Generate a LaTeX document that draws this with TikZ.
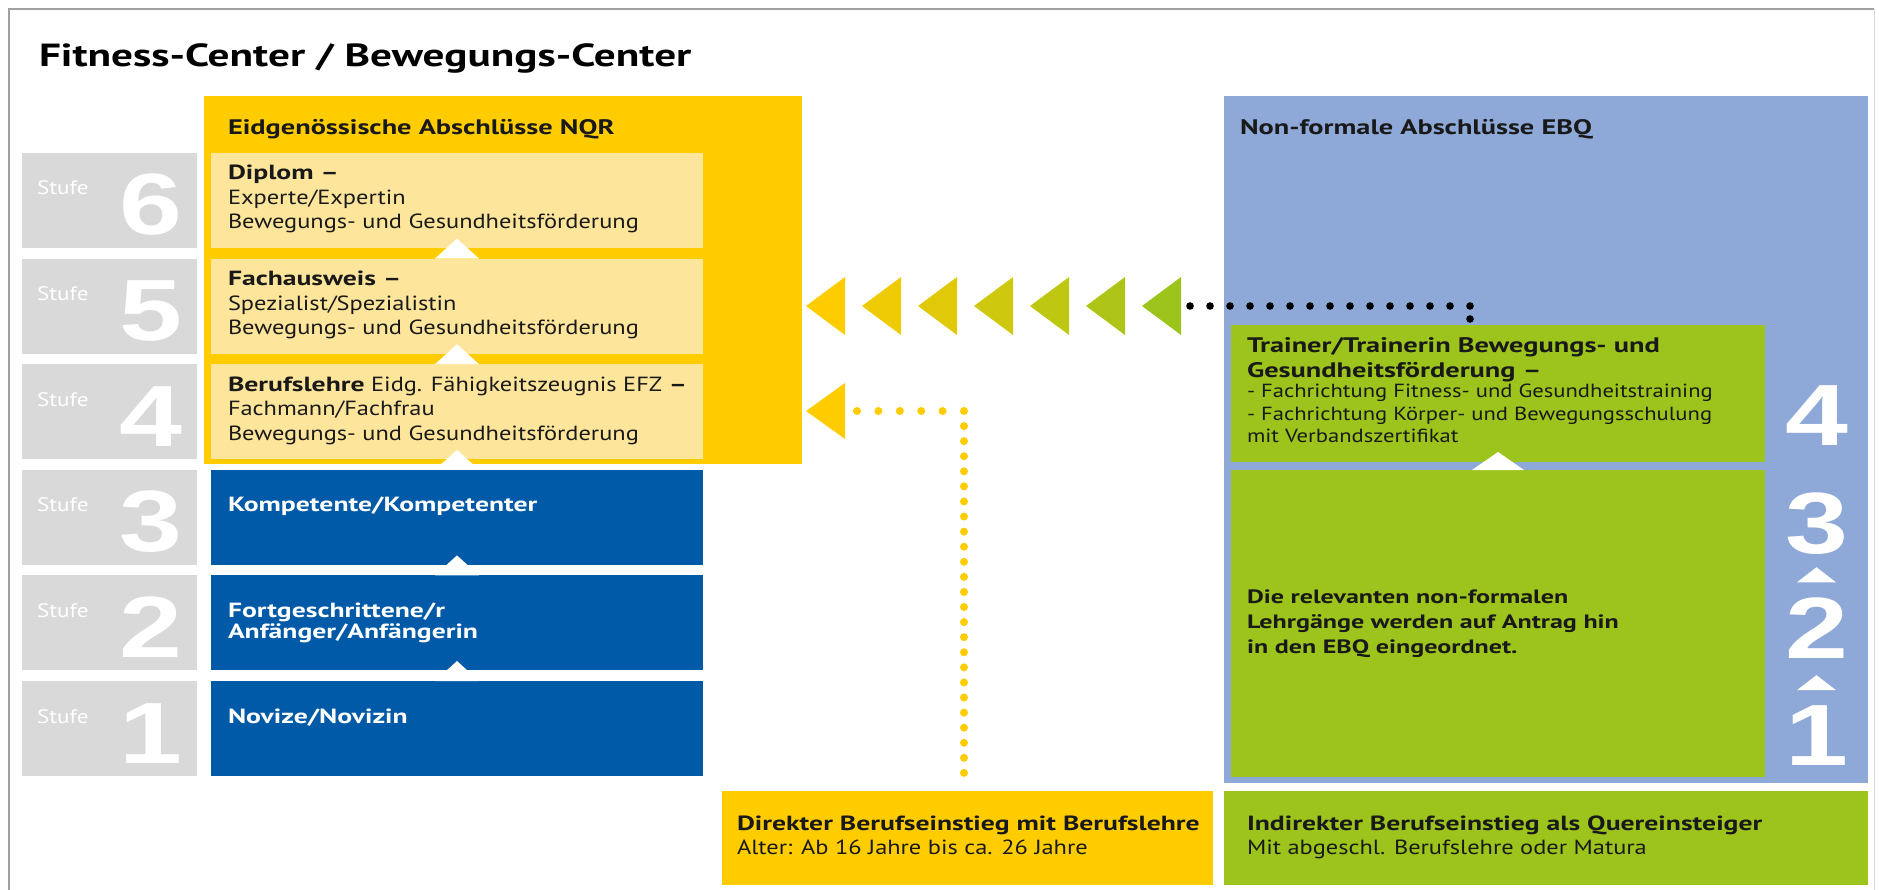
\documentclass[tikz,border=0pt]{standalone}
\usepackage{fontspec}
\setmainfont{PT Sans}[FakeStretch=1.19]
\newfontfamily\bff{PT Sans}[FakeStretch=1.35]
\newcommand{\B}[1]{{\bff\bfseries #1}}
\newfontfamily\numfont{Liberation Sans}[FakeStretch=1.3]
\usetikzlibrary{calc}
\definecolor{nqr}{RGB}{255,204,0}
\definecolor{card}{RGB}{253,229,155}
\definecolor{blu}{RGB}{0,90,168}
\definecolor{stg}{RGB}{217,217,217}
\definecolor{ebq}{RGB}{142,168,216}
\definecolor{grn}{RGB}{157,196,28}
\definecolor{ink}{RGB}{25,25,25}
\definecolor{framec}{RGB}{160,160,160}
\begin{document}
\begin{tikzpicture}[x=1pt,y=-1pt,
  every node/.style={inner sep=0pt, outer sep=0pt},
  blk/.style n args={3}{anchor=north west, fill=#1, minimum width=#2, minimum height=#3},
  txt/.style={anchor=base west, text=ink, font=\fontsize{20.5}{24.5}\selectfont},
  wtxt/.style={anchor=base west, text=white, font=\bff\bfseries\fontsize{20.5}{21}\selectfont},
  hdr/.style={anchor=base west, text=ink, font=\bff\bfseries\fontsize{21}{24.5}\selectfont},
  stlbl/.style={anchor=base west, text=white, font=\fontsize{19.5}{20}\selectfont},
  bignum/.style={anchor=base west, text=white, font=\numfont\bfseries\fontsize{87}{87}\selectfont},
  uptri/.style={fill=white}
]
\useasboundingbox (0,0) rectangle (1879,890);
% frame
\draw[framec, line width=2pt] (9,890) -- (9,9) -- (1874,9);
\draw[framec!40, line width=1pt] (1874,9) -- (1874,890);
% title
\node[anchor=base west, text=black, font=\bff\bfseries\fontsize{32}{38}\selectfont] (title) at (39,67) {Fitness-Center / Bewegungs-Center};

% Stufe column
\foreach \n/\t in {6/153,5/258.6,4/364.2,3/469.8,2/575.4,1/681}{
  \node[blk={stg}{175pt}{95pt}] (s\n) at (22,\t) {};
  \node[stlbl] (sl\n) at ([shift={(15,42)}]s\n.north west) {Stufe};
  \node[bignum] (sn\n) at ([shift={(97,82)}]s\n.north west) {\n};
}

% NQR block
\node[blk={nqr}{598pt}{368pt}] (nqr) at (204,96) {};
\node[hdr] (nqrh) at (228,135) {Eidgenössische Abschlüsse NQR};
\node[blk={card}{492pt}{95pt}] (c6) at (211,153) {};
\node[blk={card}{492pt}{95pt}] (c5) at (211,258.6) {};
\node[blk={card}{492pt}{95pt}] (c4) at (211,364.2) {};
\node[blk={blu}{492pt}{95pt}] (c3) at (211,469.8) {};
\node[blk={blu}{492pt}{95pt}] (c2) at (211,575.4) {};
\node[blk={blu}{492pt}{95pt}] (c1) at (211,681) {};

\node[txt] (t6) at ([shift={(17,27)}]c6.north west) {\parbox[t]{480pt}{\B{Diplom –}\\Experte/Expertin\\Bewegungs- und Gesundheitsförderung}};
\node[txt] (t5) at ([shift={(17,27)}]c5.north west) {\parbox[t]{480pt}{\B{Fachausweis –}\\Spezialist/Spezialistin\\Bewegungs- und Gesundheitsförderung}};
\node[txt] (t4) at ([shift={(17,27)}]c4.north west) {\parbox[t]{480pt}{\B{Berufslehre} Eidg. Fähigkeitszeugnis EFZ \B{–}\\Fachmann/Fachfrau\\Bewegungs- und Gesundheitsförderung}};
\node[wtxt] (t3) at ([shift={(17,42)}]c3.north west) {Kompetente/Kompetenter};
\node[wtxt] (t2) at ([shift={(17,42)}]c2.north west) {\parbox[t]{480pt}{Fortgeschrittene/r\\Anfänger/Anfängerin}};
\node[wtxt] (t1) at ([shift={(17,42)}]c1.north west) {Novize/Novizin};

% white step triangles (left)
\foreach \c in {c5,c4,c3,c2,c1}{
  \fill[uptri] ($(\c.north)+(-22,0)$) -- ($(\c.north)+(22,0)$) -- ($(\c.north)+(0,-20)$) -- cycle;
}

% EBQ block
\node[blk={ebq}{644pt}{687pt}] (ebq) at (1224,96) {};
\node[hdr] (ebqh) at (1240,135) {Non-formale Abschlüsse EBQ};
\node[blk={grn}{534pt}{137pt}] (tr) at (1231,325) {};
\node[blk={grn}{534pt}{307pt}] (lg) at (1231,470) {};
\node[hdr] (trh) at ([shift={(16,28)}]tr.north west) {\parbox[t]{520pt}{Trainer/Trainerin Bewegungs- und\\Gesundheitsförderung –}};
\node[anchor=base west, text=ink, font=\fontsize{19}{22}\selectfont] (trt) at ([shift={(16,73)}]tr.north west) {\parbox[t]{520pt}{- Fachrichtung Fitness- und Gesundheitstraining\\- Fachrichtung Körper- und Bewegungsschulung\\mit Verbandszertifikat}};
\node[hdr, font=\bff\bfseries\fontsize{19.3}{25}\selectfont] (lgt) at ([shift={(16,133)}]lg.north west) {\parbox[t]{520pt}{Die relevanten non-formalen\\Lehrgänge werden auf Antrag hin\\in den EBQ eingeordnet.}};
\fill[uptri] ($(lg.north)+(-26,0)$) -- ($(lg.north)+(26,0)$) -- ($(lg.north)+(0,-18)$) -- cycle;

% EBQ level numbers
\node[bignum] (e4) at (1785,445) {4};
\node[bignum] (e3) at (1785,553) {3};
\node[bignum] (e2) at (1785,658) {2};
\node[bignum] (e1) at (1785,765) {1};
\fill[uptri] ($(e2.north)+(-19.5,-15)$) -- ($(e2.north)+(19.5,-15)$) -- ($(e2.north)+(0,-30)$) -- cycle;
\fill[uptri] ($(e1.north)+(-19.5,-15)$) -- ($(e1.north)+(19.5,-15)$) -- ($(e1.north)+(0,-30)$) -- cycle;

% bottom entry boxes
\node[blk={nqr}{491pt}{94pt}] (dir) at (722,791) {};
\node[blk={grn}{644pt}{94pt}] (ind) at (1224,791) {};
\node[txt] (dirt) at ([shift={(15,39)}]dir.north west) {\parbox[t]{480pt}{\B{Direkter Berufseinstieg mit Berufslehre}\\Alter: Ab 16 Jahre bis ca. 26 Jahre}};
\node[txt] (indt) at ([shift={(23,39)}]ind.north west) {\parbox[t]{620pt}{\B{Indirekter Berufseinstieg als Quereinsteiger}\\Mit abgeschl. Berufslehre oder Matura}};

% gradient arrow chain from EBQ to Fachausweis
\foreach \i in {0,...,6}{
  \pgfmathsetmacro\xx{806+56*\i}
  \pgfmathtruncatemacro\pc{100*\i/6}
  \fill[grn!\pc!nqr] (\xx,306) -- (\xx+39,277) -- (\xx+39,335) -- cycle;
}
\coordinate (bk0) at (1190,306);
\coordinate (bk1) at (1470,306);
\foreach \k in {0,...,14}{
  \fill[black] ($(bk0)+(20*\k,0)$) circle[radius=3.8];
}
\fill[black] ($(bk1)+(0,13)$) circle[radius=3.8];

% direct entry dotted path
\fill[nqr] (806,411) -- (845,383) -- (845,439) -- cycle;
\coordinate (yd0) at (857,411);
\coordinate (yd1) at (964,411);
\foreach \k in {0,...,5}{
  \fill[nqr] ($(yd0)+(21.4*\k,0)$) circle[radius=4];
}
\foreach \k in {1,...,24}{
  \fill[nqr] ($(yd1)+(0,15.08*\k)$) circle[radius=4];
}
\end{tikzpicture}
\end{document}
